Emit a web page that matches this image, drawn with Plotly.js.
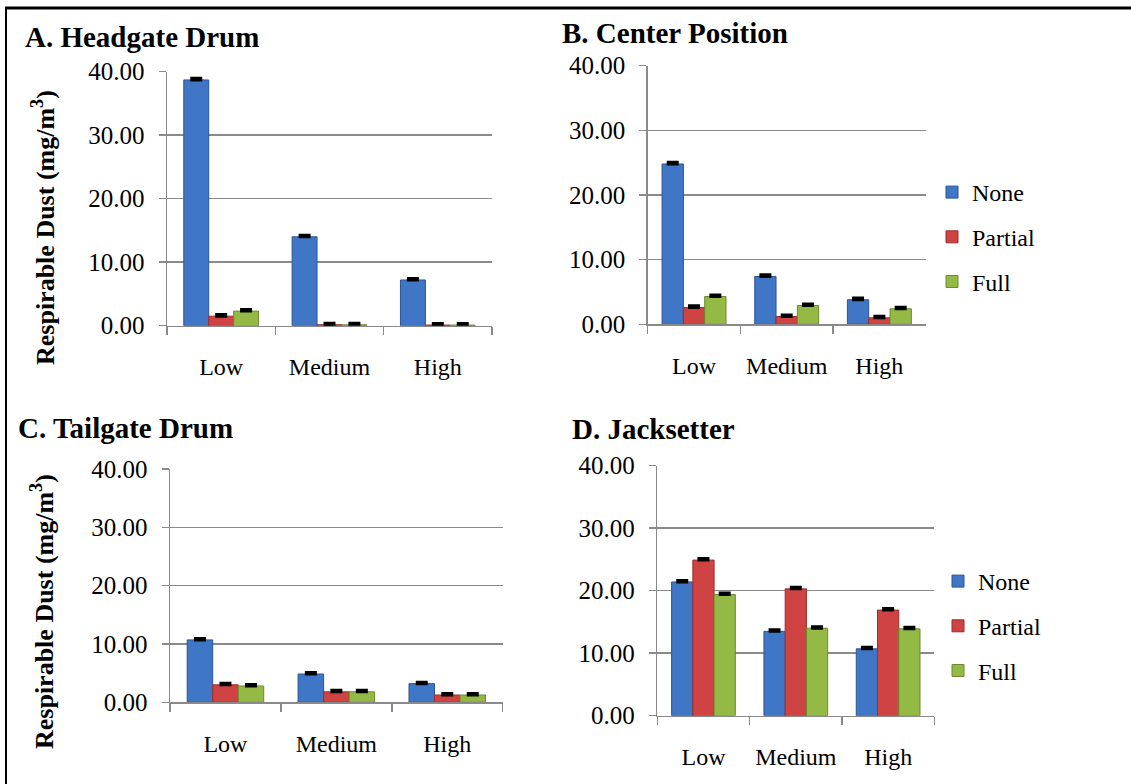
<!DOCTYPE html>
<html>
<head>
<meta charset="utf-8">
<script src="https://cdn.plot.ly/plotly-3.0.1.min.js"></script>
<style>html,body{margin:0;padding:0;background:#fff;}#chart{width:1131px;height:784px;}</style>
</head>
<body>
<div id="chart"></div>
<script>
// ---- data ----
const categories = ['Low', 'Medium', 'High'];
const seriesNames = ['None', 'Partial', 'Full'];
const panelTitles = ['A. Headgate Drum', 'B. Center Position', 'C. Tailgate Drum', 'D. Jacksetter'];
const yTitle = 'Respirable Dust (mg/m<sup>3</sup>)';

const A_none = [38.7, 14.0, 7.2];
const A_partial = [1.5, 0.15, 0.1];
const A_full = [2.3, 0.15, 0.1];

const B_none = [24.8, 7.4, 3.8];
const B_partial = [2.6, 1.2, 1.0];
const B_full = [4.3, 2.9, 2.4];

const C_none = [10.7, 4.85, 3.2];
const C_partial = [3.0, 1.8, 1.25];
const C_full = [2.8, 1.8, 1.25];

const D_none = [21.4, 13.5, 10.7];
const D_partial = [24.9, 20.3, 16.9];
const D_full = [19.4, 14.0, 13.9];

const errBar = [0.25, 0.25, 0.25];

const yTicks = [0, 10, 20, 30, 40];

// ---- style ----
const W = 1131, H = 784;
const FONT = 'Liberation Serif';
const colors = ['#3F76C6', '#CF4343', '#94BA45'];
const outlines = ['#2C5597', '#9E2D2D', '#6C8A2E'];

const panels = [
  {vals: [A_none, A_partial, A_full], x: [167, 492], y: [71.7, 325.7], legend: null},
  {vals: [B_none, B_partial, B_full], x: [647.7, 925.7], y: [65.7, 324.3], legend: 'legend'},
  {vals: [C_none, C_partial, C_full], x: [170, 502.7], y: [469, 702.3], legend: null},
  {vals: [D_none, D_partial, D_full], x: [657.3, 934.3], y: [465.7, 715.7], legend: 'legend2'}
];

const traces = [];
const layout = {
  width: W, height: H,
  margin: {l: 0, r: 0, t: 0, b: 0},
  paper_bgcolor: '#fff', plot_bgcolor: '#fff',
  font: {family: FONT, size: 24, color: '#000'},
  barmode: 'group', bargap: 0.31, bargroupgap: 0,
  annotations: [], shapes: []
};

panels.forEach((p, i) => {
  const n = i === 0 ? '' : String(i + 1);
  const xa = 'x' + n, ya = 'y' + n;
  p.vals.forEach((v, s) => {
    const t = {
      type: 'bar', x: categories, y: v, name: seriesNames[s],
      xaxis: xa, yaxis: ya,
      marker: {color: colors[s], line: {color: outlines[s], width: 1}},
      error_y: {type: 'data', symmetric: false, array: errBar, arrayminus: [0, 0, 0],
                color: '#000', thickness: 3, width: 6},
      showlegend: !!p.legend,
      legendgroup: (p.legend || 'none') + s
    };
    if (p.legend) t.legend = p.legend;
    traces.push(t);
  });
  layout['xaxis' + n] = {
    domain: [p.x[0] / W, p.x[1] / W], anchor: ya,
    showline: true, linecolor: '#8a8a8a', linewidth: 1.5,
    ticks: 'outside', tickson: 'boundaries', ticklen: 8, tickcolor: '#8a8a8a', tickwidth: 1.5,
    showgrid: false, tickfont: {family: FONT, size: 24, color: '#000'},
    ticklabelstandoff: 19, fixedrange: true
  };
  layout['yaxis' + n] = {
    domain: [1 - p.y[1] / H, 1 - p.y[0] / H], anchor: xa,
    range: [0, 40], tickvals: yTicks, tickformat: '.2f',
    showline: true, linecolor: '#8a8a8a', linewidth: 1.5,
    showgrid: true, gridcolor: '#8a8a8a', gridwidth: 1.5, zeroline: false,
    ticks: 'outside', ticklen: 7, tickcolor: '#8a8a8a', tickwidth: 1.5,
    tickfont: {family: FONT, size: 25, color: '#000'},
    ticklabelstandoff: 9, fixedrange: true
  };
});

// panel titles
const titlePos = [[23, 37], [560, 33], [16, 428], [570, 429]];
panelTitles.forEach((t, i) => {
  layout.annotations.push({
    text: '<b>' + t + '</b>', xref: 'paper', yref: 'paper',
    x: titlePos[i][0] / W, y: 1 - titlePos[i][1] / H, xanchor: 'left', yanchor: 'middle',
    showarrow: false, font: {family: FONT, size: 29, color: '#000'}
  });
});
// y titles for left panels
[[43, 228], [42, 612]].forEach(pos => {
  layout.annotations.push({
    text: '<b>' + yTitle + '</b>', xref: 'paper', yref: 'paper',
    x: pos[0] / W, y: 1 - pos[1] / H, xanchor: 'center', yanchor: 'middle',
    textangle: -90, showarrow: false, font: {family: FONT, size: 26, color: '#000'}
  });
});

const legendBase = {
  xanchor: 'left', yanchor: 'middle', bgcolor: 'rgba(0,0,0,0)',
  font: {family: FONT, size: 24, color: '#000'}, tracegroupgap: 10.5,
  itemclick: false, itemdoubleclick: false
};
layout.legend = Object.assign({}, legendBase, {x: 932 / W, y: 1 - 237 / H});
layout.legend2 = Object.assign({}, legendBase, {x: 938 / W, y: 1 - 626 / H});

// outer frame
layout.shapes.push({type: 'line', xref: 'paper', yref: 'paper', x0: 5 / W, x1: 1, y0: 1 - 8 / H, y1: 1 - 8 / H, line: {color: '#000', width: 3}});
layout.shapes.push({type: 'line', xref: 'paper', yref: 'paper', x0: 6 / W, x1: 6 / W, y0: 0, y1: 1 - 7 / H, line: {color: '#000', width: 2}});

Plotly.newPlot('chart', traces, layout, {displayModeBar: false, staticPlot: true});
</script>
</body>
</html>
